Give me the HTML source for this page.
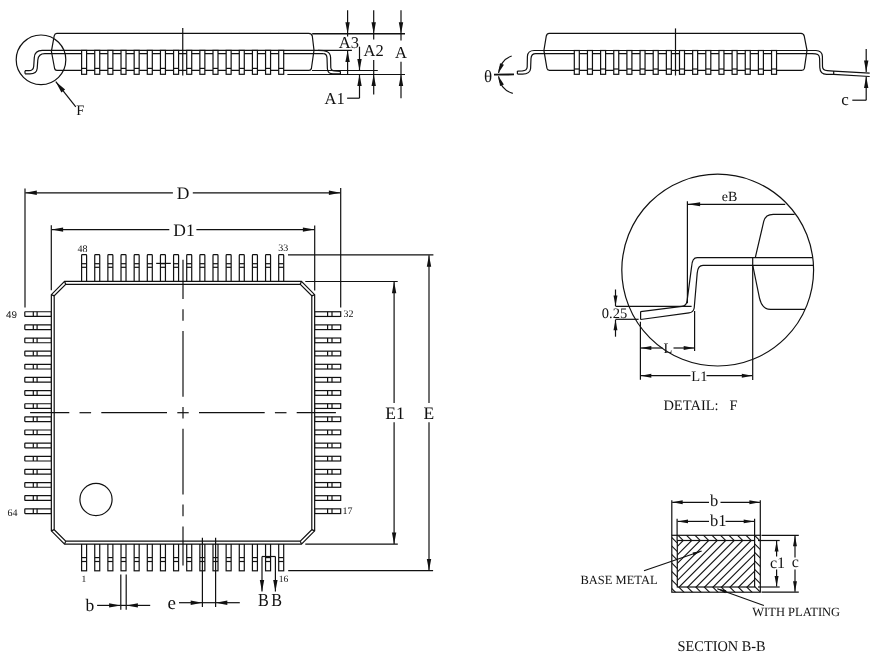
<!DOCTYPE html>
<html><head><meta charset="utf-8"><title>LQFP64 package outline</title>
<style>
html,body{margin:0;padding:0;background:#fff;}
body{width:877px;height:663px;overflow:hidden;}
svg{display:block;will-change:transform;}
svg text{font-family:"Liberation Serif",serif;fill:#111;stroke:none;text-rendering:geometricPrecision;}
</style></head><body>
<svg width="877" height="663" viewBox="0 0 877 663"><defs><clipPath id="ci"><rect x="677.3" y="540.5" width="77.3" height="46.5"/></clipPath><clipPath id="co"><path d="M671.8 535.3H760.3V592.2H671.8Z M677.3 540.5V587H754.6V540.5Z" clip-rule="evenodd"/></clipPath></defs><g stroke="#111" fill="none" stroke-linecap="butt"><circle cx="41" cy="59.8" r="24.8" stroke-width="1.2" fill="none"/><path d="M56.8 33.4 L308.6 33.4 Q311.6 33.4 312.3 36 L314 50.3 L311.4 68.5 Q311 70.3 309 70.3 L56.8 70.3 Q55 70.3 54.6 68.5 L51.4 51.3 L54.2 35.8 Q54.8 33.4 56.8 33.4 Z" stroke-width="1.2" fill="none"/><path d="M351.9 50.4 L42.2 50.4 C37 50.4 34.6 52.6 34.3 57.5 L33.7 66.5 C33.4 69.6 32 70.7 28.8 70.7 L25 70.7" stroke-width="1.2" fill="none"/><path d="M323.2 53.6 L44.8 53.6 C40.6 53.6 38.2 55.6 37.8 60 L37.2 68.5 C36.8 72.4 34.5 73.8 30 73.8 L25 73.8" stroke-width="1.2" fill="none"/><line x1="25" y1="70.7" x2="25" y2="73.8" stroke-width="1.2"/><path d="M323.2 53.6 C325.8 53.6 326.9 55 327 58 L327.4 68.8 C327.6 72.6 329.6 73.9 333 73.9 L340.4 73.9" stroke-width="1.2" fill="none"/><path d="M318 50.4 C326 50.4 330.4 51.5 330.6 57.5 L330.8 67.5 C331 70.1 332 70.8 334.5 70.9 L340.4 71.3" stroke-width="1.2" fill="none"/><line x1="340.4" y1="71.3" x2="340.4" y2="73.9" stroke-width="1.2"/><rect x="81.6" y="50.4" width="5" height="23.9" rx="0" stroke-width="1.2" fill="#fff"/><line x1="81.6" y1="68.4" x2="86.6" y2="68.4" stroke-width="1.2"/><rect x="94.74" y="50.4" width="5" height="23.9" rx="0" stroke-width="1.2" fill="#fff"/><line x1="94.74" y1="68.4" x2="99.74" y2="68.4" stroke-width="1.2"/><rect x="107.88" y="50.4" width="5" height="23.9" rx="0" stroke-width="1.2" fill="#fff"/><line x1="107.88" y1="68.4" x2="112.88" y2="68.4" stroke-width="1.2"/><rect x="121.02" y="50.4" width="5" height="23.9" rx="0" stroke-width="1.2" fill="#fff"/><line x1="121.02" y1="68.4" x2="126.02" y2="68.4" stroke-width="1.2"/><rect x="134.16" y="50.4" width="5" height="23.9" rx="0" stroke-width="1.2" fill="#fff"/><line x1="134.16" y1="68.4" x2="139.16" y2="68.4" stroke-width="1.2"/><rect x="147.3" y="50.4" width="5" height="23.9" rx="0" stroke-width="1.2" fill="#fff"/><line x1="147.3" y1="68.4" x2="152.3" y2="68.4" stroke-width="1.2"/><rect x="160.44" y="50.4" width="5" height="23.9" rx="0" stroke-width="1.2" fill="#fff"/><line x1="160.44" y1="68.4" x2="165.44" y2="68.4" stroke-width="1.2"/><rect x="173.58" y="50.4" width="5" height="23.9" rx="0" stroke-width="1.2" fill="#fff"/><line x1="173.58" y1="68.4" x2="178.58" y2="68.4" stroke-width="1.2"/><rect x="186.72" y="50.4" width="5" height="23.9" rx="0" stroke-width="1.2" fill="#fff"/><line x1="186.72" y1="68.4" x2="191.72" y2="68.4" stroke-width="1.2"/><rect x="199.86" y="50.4" width="5" height="23.9" rx="0" stroke-width="1.2" fill="#fff"/><line x1="199.86" y1="68.4" x2="204.86" y2="68.4" stroke-width="1.2"/><rect x="213" y="50.4" width="5" height="23.9" rx="0" stroke-width="1.2" fill="#fff"/><line x1="213" y1="68.4" x2="218" y2="68.4" stroke-width="1.2"/><rect x="226.14" y="50.4" width="5" height="23.9" rx="0" stroke-width="1.2" fill="#fff"/><line x1="226.14" y1="68.4" x2="231.14" y2="68.4" stroke-width="1.2"/><rect x="239.28" y="50.4" width="5" height="23.9" rx="0" stroke-width="1.2" fill="#fff"/><line x1="239.28" y1="68.4" x2="244.28" y2="68.4" stroke-width="1.2"/><rect x="252.42" y="50.4" width="5" height="23.9" rx="0" stroke-width="1.2" fill="#fff"/><line x1="252.42" y1="68.4" x2="257.42" y2="68.4" stroke-width="1.2"/><rect x="265.56" y="50.4" width="5" height="23.9" rx="0" stroke-width="1.2" fill="#fff"/><line x1="265.56" y1="68.4" x2="270.56" y2="68.4" stroke-width="1.2"/><rect x="278.7" y="50.4" width="5" height="23.9" rx="0" stroke-width="1.2" fill="#fff"/><line x1="278.7" y1="68.4" x2="283.7" y2="68.4" stroke-width="1.2"/><line x1="182.75" y1="28.1" x2="182.75" y2="75.6" stroke-width="1.2"/><line x1="312.2" y1="33.7" x2="405" y2="33.7" stroke-width="1.4"/><line x1="312" y1="70.5" x2="377.8" y2="70.5" stroke-width="1.2"/><line x1="287.4" y1="74.5" x2="405" y2="74.5" stroke-width="1.2"/><line x1="347.6" y1="10.2" x2="347.6" y2="33.7" stroke-width="1.2"/><path d="M347.6 33.7L345.4 22.2L349.8 22.2Z" fill="#111" stroke="none"/><line x1="347.6" y1="33.7" x2="347.6" y2="36.4" stroke-width="1.2"/><path d="M347.6 50.6L349.8 62.1L345.4 62.1Z" fill="#111" stroke="none"/><line x1="347.6" y1="50.6" x2="347.6" y2="74.5" stroke-width="1.2"/><line x1="359.5" y1="46.7" x2="359.5" y2="70.4" stroke-width="1.2"/><path d="M359.5 70.4L357.3 58.9L361.7 58.9Z" fill="#111" stroke="none"/><line x1="359.5" y1="98.2" x2="359.5" y2="74.6" stroke-width="1.2"/><path d="M359.5 74.6L361.7 86.1L357.3 86.1Z" fill="#111" stroke="none"/><line x1="359.5" y1="98.2" x2="347.1" y2="98.2" stroke-width="1.2"/><line x1="373.7" y1="10.2" x2="373.7" y2="33.7" stroke-width="1.2"/><path d="M373.7 33.7L371.5 22.2L375.9 22.2Z" fill="#111" stroke="none"/><line x1="373.7" y1="33.7" x2="373.7" y2="39.6" stroke-width="1.2"/><line x1="373.7" y1="60" x2="373.7" y2="74.4" stroke-width="1.2"/><line x1="373.7" y1="94.6" x2="373.7" y2="74.4" stroke-width="1.2"/><path d="M373.7 74.4L375.9 85.9L371.5 85.9Z" fill="#111" stroke="none"/><line x1="401" y1="10.2" x2="401" y2="33.7" stroke-width="1.2"/><path d="M401 33.7L398.8 22.2L403.2 22.2Z" fill="#111" stroke="none"/><line x1="401" y1="33.7" x2="401" y2="40.4" stroke-width="1.2"/><line x1="401" y1="61.8" x2="401" y2="74.4" stroke-width="1.2"/><line x1="401" y1="98.2" x2="401" y2="74.4" stroke-width="1.2"/><path d="M401 74.4L403.2 85.9L398.8 85.9Z" fill="#111" stroke="none"/><line x1="75.8" y1="106.9" x2="55.8" y2="81.7" stroke-width="1.2"/><path d="M55.8 81.7L65.14 89.61L61.38 92.59Z" fill="#111" stroke="none"/><path d="M549.2 33.4 L801 33.4 Q803.6 33.6 804.2 36 L807 50.3 L804.4 68.4 Q804 70.4 801.6 70.4 L549.4 70.4 Q547.4 70.3 546.9 68.2 L543.9 50.4 L546.3 36 Q547 33.4 549.2 33.4 Z" stroke-width="1.2" fill="none"/><path d="M816 50.5 L534.2 50.5 C529.6 50.5 527.6 52.5 527.4 56.5 L527.2 67 C527 70 525.6 70.7 522.5 70.9 L517.4 71.1" stroke-width="1.2" fill="none"/><path d="M812 53.6 L535.8 53.6 C532.5 53.6 531.2 55.5 531 58.5 L530.6 68.5 C530.2 72.7 527.6 74.1 522.5 74.1 L517.4 74.1" stroke-width="1.2" fill="none"/><line x1="517.4" y1="71.1" x2="517.4" y2="74.1" stroke-width="1.2"/><path d="M812 53.6 C817.5 53.6 819.4 54.6 819.6 58.5 L819.8 67.5 C820 72.5 822 74.3 826.6 74.3 L833.7 74.3 L869.7 76.5" stroke-width="1.2" fill="none"/><path d="M816 50.5 C820.6 50.6 822.2 52.3 822.4 56.5 L822.5 66.6 C822.6 69.6 824.2 70.6 827.2 70.7 L833.7 71.1 L869.7 73.1" stroke-width="1.2" fill="none"/><line x1="833.7" y1="71.1" x2="833.7" y2="74.3" stroke-width="1.2"/><rect x="574.3" y="50.5" width="5" height="23.8" rx="0" stroke-width="1.2" fill="#fff"/><line x1="574.3" y1="69" x2="579.3" y2="69" stroke-width="1.2"/><rect x="587.45" y="50.5" width="5" height="23.8" rx="0" stroke-width="1.2" fill="#fff"/><line x1="587.45" y1="69" x2="592.45" y2="69" stroke-width="1.2"/><rect x="600.6" y="50.5" width="5" height="23.8" rx="0" stroke-width="1.2" fill="#fff"/><line x1="600.6" y1="69" x2="605.6" y2="69" stroke-width="1.2"/><rect x="613.75" y="50.5" width="5" height="23.8" rx="0" stroke-width="1.2" fill="#fff"/><line x1="613.75" y1="69" x2="618.75" y2="69" stroke-width="1.2"/><rect x="626.9" y="50.5" width="5" height="23.8" rx="0" stroke-width="1.2" fill="#fff"/><line x1="626.9" y1="69" x2="631.9" y2="69" stroke-width="1.2"/><rect x="640.05" y="50.5" width="5" height="23.8" rx="0" stroke-width="1.2" fill="#fff"/><line x1="640.05" y1="69" x2="645.05" y2="69" stroke-width="1.2"/><rect x="653.2" y="50.5" width="5" height="23.8" rx="0" stroke-width="1.2" fill="#fff"/><line x1="653.2" y1="69" x2="658.2" y2="69" stroke-width="1.2"/><rect x="666.35" y="50.5" width="5" height="23.8" rx="0" stroke-width="1.2" fill="#fff"/><line x1="666.35" y1="69" x2="671.35" y2="69" stroke-width="1.2"/><rect x="679.5" y="50.5" width="5" height="23.8" rx="0" stroke-width="1.2" fill="#fff"/><line x1="679.5" y1="69" x2="684.5" y2="69" stroke-width="1.2"/><rect x="692.65" y="50.5" width="5" height="23.8" rx="0" stroke-width="1.2" fill="#fff"/><line x1="692.65" y1="69" x2="697.65" y2="69" stroke-width="1.2"/><rect x="705.8" y="50.5" width="5" height="23.8" rx="0" stroke-width="1.2" fill="#fff"/><line x1="705.8" y1="69" x2="710.8" y2="69" stroke-width="1.2"/><rect x="718.95" y="50.5" width="5" height="23.8" rx="0" stroke-width="1.2" fill="#fff"/><line x1="718.95" y1="69" x2="723.95" y2="69" stroke-width="1.2"/><rect x="732.1" y="50.5" width="5" height="23.8" rx="0" stroke-width="1.2" fill="#fff"/><line x1="732.1" y1="69" x2="737.1" y2="69" stroke-width="1.2"/><rect x="745.25" y="50.5" width="5" height="23.8" rx="0" stroke-width="1.2" fill="#fff"/><line x1="745.25" y1="69" x2="750.25" y2="69" stroke-width="1.2"/><rect x="758.4" y="50.5" width="5" height="23.8" rx="0" stroke-width="1.2" fill="#fff"/><line x1="758.4" y1="69" x2="763.4" y2="69" stroke-width="1.2"/><rect x="771.55" y="50.5" width="5" height="23.8" rx="0" stroke-width="1.2" fill="#fff"/><line x1="771.55" y1="69" x2="776.55" y2="69" stroke-width="1.2"/><line x1="675.5" y1="28.4" x2="675.5" y2="75.5" stroke-width="1.2"/><path d="M511.7 56 A19.5 19.5 0 0 0 498.6 73" stroke-width="1.2" fill="none"/><path d="M498.6 72.8L500.01 63.17L503.94 64.67Z" fill="#111" stroke="none"/><path d="M512.8 93.4 A19.5 19.5 0 0 1 498.6 76.2" stroke-width="1.2" fill="none"/><path d="M498.6 76.4L503.94 84.53L500.01 86.03Z" fill="#111" stroke="none"/><line x1="494" y1="74.6" x2="514" y2="74.4" stroke-width="1.9"/><line x1="866.2" y1="49" x2="866.2" y2="72" stroke-width="1.2"/><path d="M866.2 72L864 60.5L868.4 60.5Z" fill="#111" stroke="none"/><line x1="866.2" y1="100.2" x2="866.2" y2="76.4" stroke-width="1.2"/><path d="M866.2 76.4L868.4 87.9L864 87.9Z" fill="#111" stroke="none"/><line x1="866.2" y1="100.2" x2="852.3" y2="100.2" stroke-width="1.2"/><line x1="25" y1="188.6" x2="25" y2="307.5" stroke-width="1.2"/><line x1="340.7" y1="188" x2="340.7" y2="307.6" stroke-width="1.2"/><line x1="172.9" y1="192.8" x2="25.3" y2="192.8" stroke-width="1.2"/><path d="M25.3 192.8L36.8 190.6L36.8 195Z" fill="#111" stroke="none"/><line x1="192.8" y1="192.8" x2="340.4" y2="192.8" stroke-width="1.2"/><path d="M340.4 192.8L328.9 195L328.9 190.6Z" fill="#111" stroke="none"/><line x1="51.3" y1="225.2" x2="51.3" y2="290.2" stroke-width="1.2"/><line x1="314.7" y1="225.5" x2="314.7" y2="290.5" stroke-width="1.2"/><line x1="169.3" y1="229.6" x2="51.6" y2="229.6" stroke-width="1.2"/><path d="M51.6 229.6L63.1 227.4L63.1 231.8Z" fill="#111" stroke="none"/><line x1="196.4" y1="229.6" x2="314.4" y2="229.6" stroke-width="1.2"/><path d="M314.4 229.6L302.9 231.8L302.9 227.4Z" fill="#111" stroke="none"/><line x1="288" y1="254.9" x2="433.4" y2="254.9" stroke-width="1.2"/><line x1="288.2" y1="570.7" x2="433.1" y2="570.7" stroke-width="1.2"/><line x1="429" y1="402.9" x2="429" y2="255.2" stroke-width="1.2"/><path d="M429 255.2L431.2 266.7L426.8 266.7Z" fill="#111" stroke="none"/><line x1="429" y1="422.2" x2="429" y2="570.4" stroke-width="1.2"/><path d="M429 570.4L426.8 558.9L431.2 558.9Z" fill="#111" stroke="none"/><line x1="305.3" y1="281.5" x2="397.7" y2="281.5" stroke-width="1.2"/><line x1="305.3" y1="544.2" x2="397.8" y2="544.2" stroke-width="1.2"/><line x1="394.1" y1="402.9" x2="394.1" y2="281.8" stroke-width="1.2"/><path d="M394.1 281.8L396.3 293.3L391.9 293.3Z" fill="#111" stroke="none"/><line x1="394.1" y1="422.2" x2="394.1" y2="543.9" stroke-width="1.2"/><path d="M394.1 543.9L391.9 532.4L396.3 532.4Z" fill="#111" stroke="none"/><rect x="81.6" y="254.6" width="5" height="27.4" rx="0.8" stroke-width="1.2" fill="#fff"/><line x1="81.6" y1="263.7" x2="86.6" y2="263.7" stroke-width="1.2"/><line x1="81.6" y1="267.3" x2="86.6" y2="267.3" stroke-width="1.2"/><rect x="94.74" y="254.6" width="5" height="27.4" rx="0.8" stroke-width="1.2" fill="#fff"/><line x1="94.74" y1="263.7" x2="99.74" y2="263.7" stroke-width="1.2"/><line x1="94.74" y1="267.3" x2="99.74" y2="267.3" stroke-width="1.2"/><rect x="107.88" y="254.6" width="5" height="27.4" rx="0.8" stroke-width="1.2" fill="#fff"/><line x1="107.88" y1="263.7" x2="112.88" y2="263.7" stroke-width="1.2"/><line x1="107.88" y1="267.3" x2="112.88" y2="267.3" stroke-width="1.2"/><rect x="121.02" y="254.6" width="5" height="27.4" rx="0.8" stroke-width="1.2" fill="#fff"/><line x1="121.02" y1="263.7" x2="126.02" y2="263.7" stroke-width="1.2"/><line x1="121.02" y1="267.3" x2="126.02" y2="267.3" stroke-width="1.2"/><rect x="134.16" y="254.6" width="5" height="27.4" rx="0.8" stroke-width="1.2" fill="#fff"/><line x1="134.16" y1="263.7" x2="139.16" y2="263.7" stroke-width="1.2"/><line x1="134.16" y1="267.3" x2="139.16" y2="267.3" stroke-width="1.2"/><rect x="147.3" y="254.6" width="5" height="27.4" rx="0.8" stroke-width="1.2" fill="#fff"/><line x1="147.3" y1="263.7" x2="152.3" y2="263.7" stroke-width="1.2"/><line x1="147.3" y1="267.3" x2="152.3" y2="267.3" stroke-width="1.2"/><rect x="160.44" y="254.6" width="5" height="27.4" rx="0.8" stroke-width="1.2" fill="#fff"/><line x1="160.44" y1="263.7" x2="165.44" y2="263.7" stroke-width="1.2"/><line x1="160.44" y1="267.3" x2="165.44" y2="267.3" stroke-width="1.2"/><rect x="173.58" y="254.6" width="5" height="27.4" rx="0.8" stroke-width="1.2" fill="#fff"/><line x1="173.58" y1="263.7" x2="178.58" y2="263.7" stroke-width="1.2"/><line x1="173.58" y1="267.3" x2="178.58" y2="267.3" stroke-width="1.2"/><rect x="186.72" y="254.6" width="5" height="27.4" rx="0.8" stroke-width="1.2" fill="#fff"/><line x1="186.72" y1="263.7" x2="191.72" y2="263.7" stroke-width="1.2"/><line x1="186.72" y1="267.3" x2="191.72" y2="267.3" stroke-width="1.2"/><rect x="199.86" y="254.6" width="5" height="27.4" rx="0.8" stroke-width="1.2" fill="#fff"/><line x1="199.86" y1="263.7" x2="204.86" y2="263.7" stroke-width="1.2"/><line x1="199.86" y1="267.3" x2="204.86" y2="267.3" stroke-width="1.2"/><rect x="213" y="254.6" width="5" height="27.4" rx="0.8" stroke-width="1.2" fill="#fff"/><line x1="213" y1="263.7" x2="218" y2="263.7" stroke-width="1.2"/><line x1="213" y1="267.3" x2="218" y2="267.3" stroke-width="1.2"/><rect x="226.14" y="254.6" width="5" height="27.4" rx="0.8" stroke-width="1.2" fill="#fff"/><line x1="226.14" y1="263.7" x2="231.14" y2="263.7" stroke-width="1.2"/><line x1="226.14" y1="267.3" x2="231.14" y2="267.3" stroke-width="1.2"/><rect x="239.28" y="254.6" width="5" height="27.4" rx="0.8" stroke-width="1.2" fill="#fff"/><line x1="239.28" y1="263.7" x2="244.28" y2="263.7" stroke-width="1.2"/><line x1="239.28" y1="267.3" x2="244.28" y2="267.3" stroke-width="1.2"/><rect x="252.42" y="254.6" width="5" height="27.4" rx="0.8" stroke-width="1.2" fill="#fff"/><line x1="252.42" y1="263.7" x2="257.42" y2="263.7" stroke-width="1.2"/><line x1="252.42" y1="267.3" x2="257.42" y2="267.3" stroke-width="1.2"/><rect x="265.56" y="254.6" width="5" height="27.4" rx="0.8" stroke-width="1.2" fill="#fff"/><line x1="265.56" y1="263.7" x2="270.56" y2="263.7" stroke-width="1.2"/><line x1="265.56" y1="267.3" x2="270.56" y2="267.3" stroke-width="1.2"/><rect x="278.7" y="254.6" width="5" height="27.4" rx="0.8" stroke-width="1.2" fill="#fff"/><line x1="278.7" y1="263.7" x2="283.7" y2="263.7" stroke-width="1.2"/><line x1="278.7" y1="267.3" x2="283.7" y2="267.3" stroke-width="1.2"/><rect x="81.6" y="543.6" width="5" height="27.2" rx="0" stroke-width="1.2" fill="#fff"/><line x1="81.6" y1="557.6" x2="86.6" y2="557.6" stroke-width="1.2"/><line x1="81.6" y1="561.5" x2="86.6" y2="561.5" stroke-width="1.2"/><rect x="94.74" y="543.6" width="5" height="27.2" rx="0" stroke-width="1.2" fill="#fff"/><line x1="94.74" y1="557.6" x2="99.74" y2="557.6" stroke-width="1.2"/><line x1="94.74" y1="561.5" x2="99.74" y2="561.5" stroke-width="1.2"/><rect x="107.88" y="543.6" width="5" height="27.2" rx="0" stroke-width="1.2" fill="#fff"/><line x1="107.88" y1="557.6" x2="112.88" y2="557.6" stroke-width="1.2"/><line x1="107.88" y1="561.5" x2="112.88" y2="561.5" stroke-width="1.2"/><rect x="121.02" y="543.6" width="5" height="27.2" rx="0" stroke-width="1.2" fill="#fff"/><line x1="121.02" y1="557.6" x2="126.02" y2="557.6" stroke-width="1.2"/><line x1="121.02" y1="561.5" x2="126.02" y2="561.5" stroke-width="1.2"/><rect x="134.16" y="543.6" width="5" height="27.2" rx="0" stroke-width="1.2" fill="#fff"/><line x1="134.16" y1="557.6" x2="139.16" y2="557.6" stroke-width="1.2"/><line x1="134.16" y1="561.5" x2="139.16" y2="561.5" stroke-width="1.2"/><rect x="147.3" y="543.6" width="5" height="27.2" rx="0" stroke-width="1.2" fill="#fff"/><line x1="147.3" y1="557.6" x2="152.3" y2="557.6" stroke-width="1.2"/><line x1="147.3" y1="561.5" x2="152.3" y2="561.5" stroke-width="1.2"/><rect x="160.44" y="543.6" width="5" height="27.2" rx="0" stroke-width="1.2" fill="#fff"/><line x1="160.44" y1="557.6" x2="165.44" y2="557.6" stroke-width="1.2"/><line x1="160.44" y1="561.5" x2="165.44" y2="561.5" stroke-width="1.2"/><rect x="173.58" y="543.6" width="5" height="27.2" rx="0" stroke-width="1.2" fill="#fff"/><line x1="173.58" y1="557.6" x2="178.58" y2="557.6" stroke-width="1.2"/><line x1="173.58" y1="561.5" x2="178.58" y2="561.5" stroke-width="1.2"/><rect x="186.72" y="543.6" width="5" height="27.2" rx="0" stroke-width="1.2" fill="#fff"/><line x1="186.72" y1="557.6" x2="191.72" y2="557.6" stroke-width="1.2"/><line x1="186.72" y1="561.5" x2="191.72" y2="561.5" stroke-width="1.2"/><rect x="199.86" y="543.6" width="5" height="27.2" rx="0" stroke-width="1.2" fill="#fff"/><line x1="199.86" y1="557.6" x2="204.86" y2="557.6" stroke-width="1.2"/><line x1="199.86" y1="561.5" x2="204.86" y2="561.5" stroke-width="1.2"/><rect x="213" y="543.6" width="5" height="27.2" rx="0" stroke-width="1.2" fill="#fff"/><line x1="213" y1="557.6" x2="218" y2="557.6" stroke-width="1.2"/><line x1="213" y1="561.5" x2="218" y2="561.5" stroke-width="1.2"/><rect x="226.14" y="543.6" width="5" height="27.2" rx="0" stroke-width="1.2" fill="#fff"/><line x1="226.14" y1="557.6" x2="231.14" y2="557.6" stroke-width="1.2"/><line x1="226.14" y1="561.5" x2="231.14" y2="561.5" stroke-width="1.2"/><rect x="239.28" y="543.6" width="5" height="27.2" rx="0" stroke-width="1.2" fill="#fff"/><line x1="239.28" y1="557.6" x2="244.28" y2="557.6" stroke-width="1.2"/><line x1="239.28" y1="561.5" x2="244.28" y2="561.5" stroke-width="1.2"/><rect x="252.42" y="543.6" width="5" height="27.2" rx="0" stroke-width="1.2" fill="#fff"/><line x1="252.42" y1="557.6" x2="257.42" y2="557.6" stroke-width="1.2"/><line x1="252.42" y1="561.5" x2="257.42" y2="561.5" stroke-width="1.2"/><rect x="265.56" y="543.6" width="5" height="27.2" rx="0" stroke-width="1.2" fill="#fff"/><line x1="265.56" y1="557.6" x2="270.56" y2="557.6" stroke-width="1.2"/><line x1="265.56" y1="561.5" x2="270.56" y2="561.5" stroke-width="1.2"/><rect x="278.7" y="543.6" width="5" height="27.2" rx="0" stroke-width="1.2" fill="#fff"/><line x1="278.7" y1="557.6" x2="283.7" y2="557.6" stroke-width="1.2"/><line x1="278.7" y1="561.5" x2="283.7" y2="561.5" stroke-width="1.2"/><rect x="24.8" y="311.75" width="26.6" height="4.7" rx="0.5" stroke-width="1.2" fill="#fff"/><line x1="33.3" y1="311.75" x2="33.3" y2="316.45" stroke-width="1.2"/><line x1="37.1" y1="311.75" x2="37.1" y2="316.45" stroke-width="1.2"/><rect x="24.8" y="324.89" width="26.6" height="4.7" rx="0.5" stroke-width="1.2" fill="#fff"/><line x1="33.3" y1="324.89" x2="33.3" y2="329.59" stroke-width="1.2"/><line x1="37.1" y1="324.89" x2="37.1" y2="329.59" stroke-width="1.2"/><rect x="24.8" y="338.03" width="26.6" height="4.7" rx="0.5" stroke-width="1.2" fill="#fff"/><line x1="33.3" y1="338.03" x2="33.3" y2="342.73" stroke-width="1.2"/><line x1="37.1" y1="338.03" x2="37.1" y2="342.73" stroke-width="1.2"/><rect x="24.8" y="351.17" width="26.6" height="4.7" rx="0.5" stroke-width="1.2" fill="#fff"/><line x1="33.3" y1="351.17" x2="33.3" y2="355.87" stroke-width="1.2"/><line x1="37.1" y1="351.17" x2="37.1" y2="355.87" stroke-width="1.2"/><rect x="24.8" y="364.31" width="26.6" height="4.7" rx="0.5" stroke-width="1.2" fill="#fff"/><line x1="33.3" y1="364.31" x2="33.3" y2="369.01" stroke-width="1.2"/><line x1="37.1" y1="364.31" x2="37.1" y2="369.01" stroke-width="1.2"/><rect x="24.8" y="377.45" width="26.6" height="4.7" rx="0.5" stroke-width="1.2" fill="#fff"/><line x1="33.3" y1="377.45" x2="33.3" y2="382.15" stroke-width="1.2"/><line x1="37.1" y1="377.45" x2="37.1" y2="382.15" stroke-width="1.2"/><rect x="24.8" y="390.59" width="26.6" height="4.7" rx="0.5" stroke-width="1.2" fill="#fff"/><line x1="33.3" y1="390.59" x2="33.3" y2="395.29" stroke-width="1.2"/><line x1="37.1" y1="390.59" x2="37.1" y2="395.29" stroke-width="1.2"/><rect x="24.8" y="403.73" width="26.6" height="4.7" rx="0.5" stroke-width="1.2" fill="#fff"/><line x1="33.3" y1="403.73" x2="33.3" y2="408.43" stroke-width="1.2"/><line x1="37.1" y1="403.73" x2="37.1" y2="408.43" stroke-width="1.2"/><rect x="24.8" y="416.87" width="26.6" height="4.7" rx="0.5" stroke-width="1.2" fill="#fff"/><line x1="33.3" y1="416.87" x2="33.3" y2="421.57" stroke-width="1.2"/><line x1="37.1" y1="416.87" x2="37.1" y2="421.57" stroke-width="1.2"/><rect x="24.8" y="430.01" width="26.6" height="4.7" rx="0.5" stroke-width="1.2" fill="#fff"/><line x1="33.3" y1="430.01" x2="33.3" y2="434.71" stroke-width="1.2"/><line x1="37.1" y1="430.01" x2="37.1" y2="434.71" stroke-width="1.2"/><rect x="24.8" y="443.15" width="26.6" height="4.7" rx="0.5" stroke-width="1.2" fill="#fff"/><line x1="33.3" y1="443.15" x2="33.3" y2="447.85" stroke-width="1.2"/><line x1="37.1" y1="443.15" x2="37.1" y2="447.85" stroke-width="1.2"/><rect x="24.8" y="456.29" width="26.6" height="4.7" rx="0.5" stroke-width="1.2" fill="#fff"/><line x1="33.3" y1="456.29" x2="33.3" y2="460.99" stroke-width="1.2"/><line x1="37.1" y1="456.29" x2="37.1" y2="460.99" stroke-width="1.2"/><rect x="24.8" y="469.43" width="26.6" height="4.7" rx="0.5" stroke-width="1.2" fill="#fff"/><line x1="33.3" y1="469.43" x2="33.3" y2="474.13" stroke-width="1.2"/><line x1="37.1" y1="469.43" x2="37.1" y2="474.13" stroke-width="1.2"/><rect x="24.8" y="482.57" width="26.6" height="4.7" rx="0.5" stroke-width="1.2" fill="#fff"/><line x1="33.3" y1="482.57" x2="33.3" y2="487.27" stroke-width="1.2"/><line x1="37.1" y1="482.57" x2="37.1" y2="487.27" stroke-width="1.2"/><rect x="24.8" y="495.71" width="26.6" height="4.7" rx="0.5" stroke-width="1.2" fill="#fff"/><line x1="33.3" y1="495.71" x2="33.3" y2="500.41" stroke-width="1.2"/><line x1="37.1" y1="495.71" x2="37.1" y2="500.41" stroke-width="1.2"/><rect x="24.8" y="508.85" width="26.6" height="4.7" rx="0.5" stroke-width="1.2" fill="#fff"/><line x1="33.3" y1="508.85" x2="33.3" y2="513.55" stroke-width="1.2"/><line x1="37.1" y1="508.85" x2="37.1" y2="513.55" stroke-width="1.2"/><rect x="314.6" y="311.75" width="26.1" height="4.7" rx="0" stroke-width="1.2" fill="#fff"/><line x1="327.6" y1="311.75" x2="327.6" y2="316.45" stroke-width="1.2"/><line x1="332" y1="311.75" x2="332" y2="316.45" stroke-width="1.2"/><rect x="314.6" y="324.89" width="26.1" height="4.7" rx="0" stroke-width="1.2" fill="#fff"/><line x1="327.6" y1="324.89" x2="327.6" y2="329.59" stroke-width="1.2"/><line x1="332" y1="324.89" x2="332" y2="329.59" stroke-width="1.2"/><rect x="314.6" y="338.03" width="26.1" height="4.7" rx="0" stroke-width="1.2" fill="#fff"/><line x1="327.6" y1="338.03" x2="327.6" y2="342.73" stroke-width="1.2"/><line x1="332" y1="338.03" x2="332" y2="342.73" stroke-width="1.2"/><rect x="314.6" y="351.17" width="26.1" height="4.7" rx="0" stroke-width="1.2" fill="#fff"/><line x1="327.6" y1="351.17" x2="327.6" y2="355.87" stroke-width="1.2"/><line x1="332" y1="351.17" x2="332" y2="355.87" stroke-width="1.2"/><rect x="314.6" y="364.31" width="26.1" height="4.7" rx="0" stroke-width="1.2" fill="#fff"/><line x1="327.6" y1="364.31" x2="327.6" y2="369.01" stroke-width="1.2"/><line x1="332" y1="364.31" x2="332" y2="369.01" stroke-width="1.2"/><rect x="314.6" y="377.45" width="26.1" height="4.7" rx="0" stroke-width="1.2" fill="#fff"/><line x1="327.6" y1="377.45" x2="327.6" y2="382.15" stroke-width="1.2"/><line x1="332" y1="377.45" x2="332" y2="382.15" stroke-width="1.2"/><rect x="314.6" y="390.59" width="26.1" height="4.7" rx="0" stroke-width="1.2" fill="#fff"/><line x1="327.6" y1="390.59" x2="327.6" y2="395.29" stroke-width="1.2"/><line x1="332" y1="390.59" x2="332" y2="395.29" stroke-width="1.2"/><rect x="314.6" y="403.73" width="26.1" height="4.7" rx="0" stroke-width="1.2" fill="#fff"/><line x1="327.6" y1="403.73" x2="327.6" y2="408.43" stroke-width="1.2"/><line x1="332" y1="403.73" x2="332" y2="408.43" stroke-width="1.2"/><rect x="314.6" y="416.87" width="26.1" height="4.7" rx="0" stroke-width="1.2" fill="#fff"/><line x1="327.6" y1="416.87" x2="327.6" y2="421.57" stroke-width="1.2"/><line x1="332" y1="416.87" x2="332" y2="421.57" stroke-width="1.2"/><rect x="314.6" y="430.01" width="26.1" height="4.7" rx="0" stroke-width="1.2" fill="#fff"/><line x1="327.6" y1="430.01" x2="327.6" y2="434.71" stroke-width="1.2"/><line x1="332" y1="430.01" x2="332" y2="434.71" stroke-width="1.2"/><rect x="314.6" y="443.15" width="26.1" height="4.7" rx="0" stroke-width="1.2" fill="#fff"/><line x1="327.6" y1="443.15" x2="327.6" y2="447.85" stroke-width="1.2"/><line x1="332" y1="443.15" x2="332" y2="447.85" stroke-width="1.2"/><rect x="314.6" y="456.29" width="26.1" height="4.7" rx="0" stroke-width="1.2" fill="#fff"/><line x1="327.6" y1="456.29" x2="327.6" y2="460.99" stroke-width="1.2"/><line x1="332" y1="456.29" x2="332" y2="460.99" stroke-width="1.2"/><rect x="314.6" y="469.43" width="26.1" height="4.7" rx="0" stroke-width="1.2" fill="#fff"/><line x1="327.6" y1="469.43" x2="327.6" y2="474.13" stroke-width="1.2"/><line x1="332" y1="469.43" x2="332" y2="474.13" stroke-width="1.2"/><rect x="314.6" y="482.57" width="26.1" height="4.7" rx="0" stroke-width="1.2" fill="#fff"/><line x1="327.6" y1="482.57" x2="327.6" y2="487.27" stroke-width="1.2"/><line x1="332" y1="482.57" x2="332" y2="487.27" stroke-width="1.2"/><rect x="314.6" y="495.71" width="26.1" height="4.7" rx="0" stroke-width="1.2" fill="#fff"/><line x1="327.6" y1="495.71" x2="327.6" y2="500.41" stroke-width="1.2"/><line x1="332" y1="495.71" x2="332" y2="500.41" stroke-width="1.2"/><rect x="314.6" y="508.85" width="26.1" height="4.7" rx="0" stroke-width="1.2" fill="#fff"/><line x1="327.6" y1="508.85" x2="327.6" y2="513.55" stroke-width="1.2"/><line x1="332" y1="508.85" x2="332" y2="513.55" stroke-width="1.2"/><path d="M64.55 281.45 L301.45 281.45 L314.65 294.65 L314.65 530.85 L301.45 544.05 L64.55 544.05 L51.35 530.85 L51.35 294.65 Z" stroke-width="1.2" fill="#fff"/><path d="M65.73 284.3 L300.27 284.3 L311.8 295.83 L311.8 529.67 L300.27 541.2 L65.73 541.2 L54.2 529.67 L54.2 295.83 Z" stroke-width="1.2" fill="none"/><line x1="64.55" y1="281.45" x2="65.73" y2="284.3" stroke-width="1.2"/><line x1="301.45" y1="281.45" x2="300.27" y2="284.3" stroke-width="1.2"/><line x1="314.65" y1="294.65" x2="311.8" y2="295.83" stroke-width="1.2"/><line x1="314.65" y1="530.85" x2="311.8" y2="529.67" stroke-width="1.2"/><line x1="301.45" y1="544.05" x2="300.27" y2="541.2" stroke-width="1.2"/><line x1="64.55" y1="544.05" x2="65.73" y2="541.2" stroke-width="1.2"/><line x1="51.35" y1="530.85" x2="54.2" y2="529.67" stroke-width="1.2"/><line x1="51.35" y1="294.65" x2="54.2" y2="295.83" stroke-width="1.2"/><line x1="30.1" y1="412.7" x2="69.3" y2="412.7" stroke-width="1.2"/><line x1="183" y1="259.8" x2="183" y2="299" stroke-width="1.2"/><line x1="79.5" y1="412.7" x2="91.1" y2="412.7" stroke-width="1.2"/><line x1="183" y1="309.2" x2="183" y2="320.8" stroke-width="1.2"/><line x1="101.3" y1="412.7" x2="167" y2="412.7" stroke-width="1.2"/><line x1="183" y1="331" x2="183" y2="396.7" stroke-width="1.2"/><line x1="177.3" y1="412.7" x2="188.7" y2="412.7" stroke-width="1.2"/><line x1="183" y1="407" x2="183" y2="418.4" stroke-width="1.2"/><line x1="199" y1="412.7" x2="264.7" y2="412.7" stroke-width="1.2"/><line x1="183" y1="428.7" x2="183" y2="494.4" stroke-width="1.2"/><line x1="274.9" y1="412.7" x2="286.5" y2="412.7" stroke-width="1.2"/><line x1="183" y1="504.6" x2="183" y2="516.2" stroke-width="1.2"/><line x1="296.7" y1="412.7" x2="335.9" y2="412.7" stroke-width="1.2"/><line x1="183" y1="526.4" x2="183" y2="565.6" stroke-width="1.2"/><line x1="156.2" y1="263.4" x2="170.8" y2="263.4" stroke-width="1.2"/><circle cx="96" cy="499.5" r="16.1" stroke-width="1.2" fill="none"/><line x1="120.8" y1="574.4" x2="120.8" y2="609.7" stroke-width="1.2"/><line x1="126.2" y1="574.4" x2="126.2" y2="609.7" stroke-width="1.2"/><line x1="97.1" y1="605.4" x2="120.6" y2="605.4" stroke-width="1.2"/><path d="M120.6 605.4L109.1 607.6L109.1 603.2Z" fill="#111" stroke="none"/><line x1="150.2" y1="605.4" x2="126.4" y2="605.4" stroke-width="1.2"/><path d="M126.4 605.4L137.9 603.2L137.9 607.6Z" fill="#111" stroke="none"/><line x1="120.6" y1="605.4" x2="126.4" y2="605.4" stroke-width="1.2"/><line x1="202.4" y1="537.7" x2="202.4" y2="607" stroke-width="1.2"/><line x1="215.6" y1="537.7" x2="215.6" y2="607" stroke-width="1.2"/><line x1="179" y1="602.7" x2="202.2" y2="602.7" stroke-width="1.2"/><path d="M202.2 602.7L190.7 604.9L190.7 600.5Z" fill="#111" stroke="none"/><line x1="239.8" y1="602.7" x2="215.8" y2="602.7" stroke-width="1.2"/><path d="M215.8 602.7L227.3 600.5L227.3 604.9Z" fill="#111" stroke="none"/><line x1="202.2" y1="602.7" x2="215.8" y2="602.7" stroke-width="1.2"/><line x1="262" y1="556.5" x2="275.4" y2="556.5" stroke-width="1.2"/><line x1="262" y1="556.5" x2="262" y2="591.6" stroke-width="1.2"/><path d="M262 591.6L259.8 580.1L264.2 580.1Z" fill="#111" stroke="none"/><line x1="275.4" y1="556.5" x2="275.4" y2="591.6" stroke-width="1.2"/><path d="M275.4 591.6L273.2 580.1L277.6 580.1Z" fill="#111" stroke="none"/><circle cx="717.7" cy="270.1" r="95.9" stroke-width="1.2" fill="none"/><line x1="687.4" y1="201.2" x2="687.4" y2="303.3" stroke-width="1.2"/><line x1="785.2" y1="204.3" x2="687.6" y2="204.3" stroke-width="1.2"/><path d="M687.6 204.3L700.1 202.3L700.1 206.3Z" fill="#111" stroke="none"/><path d="M794.6 214.3 L773.2 214.3 C768 214.3 765 216.5 763.8 221.2 L755.3 257.6" stroke-width="1.2" fill="none"/><path d="M752.8 265.5 L759.5 298.2 C761 305 765 309.3 770.6 309.3 L805 309.3" stroke-width="1.2" fill="none"/><line x1="752.7" y1="257.3" x2="752.7" y2="380" stroke-width="1.2"/><path d="M812.5 257.7 L697.2 257.7 C693 257.7 691.9 261 691.6 266.7 L687.1 300.8 C686.6 304.5 685.5 306 682 306.4 L640.6 311.6" stroke-width="1.2" fill="none"/><path d="M813.4 265.4 L703 265.4 C699.5 265.4 697.6 268 697.2 273.1 L694.2 308 C693.7 311 692 312.5 689 312.8 L640.6 319.5" stroke-width="1.2" fill="none"/><line x1="640.6" y1="311.6" x2="640.6" y2="319.5" stroke-width="1.2"/><line x1="615.5" y1="306.4" x2="691.6" y2="306.4" stroke-width="1.2"/><line x1="615.5" y1="319.3" x2="638.6" y2="319.3" stroke-width="1.2"/><line x1="615.5" y1="289.5" x2="615.5" y2="306" stroke-width="1.2"/><path d="M615.5 306L613.55 295.5L617.45 295.5Z" fill="#111" stroke="none"/><line x1="615.5" y1="336.7" x2="615.5" y2="319.7" stroke-width="1.2"/><path d="M615.5 319.7L617.45 330.2L613.55 330.2Z" fill="#111" stroke="none"/><line x1="694.6" y1="311" x2="694.6" y2="351" stroke-width="1.2"/><line x1="640.4" y1="321.8" x2="640.4" y2="379.8" stroke-width="1.2"/><line x1="662.5" y1="348" x2="640.8" y2="348" stroke-width="1.2"/><path d="M640.8 348L651.3 346.05L651.3 349.95Z" fill="#111" stroke="none"/><line x1="673.5" y1="348" x2="694.2" y2="348" stroke-width="1.2"/><path d="M694.2 348L683.7 349.95L683.7 346.05Z" fill="#111" stroke="none"/><line x1="690.5" y1="375.7" x2="640.8" y2="375.7" stroke-width="1.2"/><path d="M640.8 375.7L651.3 373.75L651.3 377.65Z" fill="#111" stroke="none"/><line x1="706.5" y1="375.7" x2="752.3" y2="375.7" stroke-width="1.2"/><path d="M752.3 375.7L741.8 377.65L741.8 373.75Z" fill="#111" stroke="none"/><g clip-path="url(#ci)"><line x1="591.2" y1="530.5" x2="521.7" y2="600" stroke-width="1.15"/><line x1="599.7" y1="530.5" x2="530.2" y2="600" stroke-width="1.15"/><line x1="608.2" y1="530.5" x2="538.7" y2="600" stroke-width="1.15"/><line x1="616.7" y1="530.5" x2="547.2" y2="600" stroke-width="1.15"/><line x1="625.2" y1="530.5" x2="555.7" y2="600" stroke-width="1.15"/><line x1="633.7" y1="530.5" x2="564.2" y2="600" stroke-width="1.15"/><line x1="642.2" y1="530.5" x2="572.7" y2="600" stroke-width="1.15"/><line x1="650.7" y1="530.5" x2="581.2" y2="600" stroke-width="1.15"/><line x1="659.2" y1="530.5" x2="589.7" y2="600" stroke-width="1.15"/><line x1="667.7" y1="530.5" x2="598.2" y2="600" stroke-width="1.15"/><line x1="676.2" y1="530.5" x2="606.7" y2="600" stroke-width="1.15"/><line x1="684.7" y1="530.5" x2="615.2" y2="600" stroke-width="1.15"/><line x1="693.2" y1="530.5" x2="623.7" y2="600" stroke-width="1.15"/><line x1="701.7" y1="530.5" x2="632.2" y2="600" stroke-width="1.15"/><line x1="710.2" y1="530.5" x2="640.7" y2="600" stroke-width="1.15"/><line x1="718.7" y1="530.5" x2="649.2" y2="600" stroke-width="1.15"/><line x1="727.2" y1="530.5" x2="657.7" y2="600" stroke-width="1.15"/><line x1="735.7" y1="530.5" x2="666.2" y2="600" stroke-width="1.15"/><line x1="744.2" y1="530.5" x2="674.7" y2="600" stroke-width="1.15"/><line x1="752.7" y1="530.5" x2="683.2" y2="600" stroke-width="1.15"/><line x1="761.2" y1="530.5" x2="691.7" y2="600" stroke-width="1.15"/><line x1="769.7" y1="530.5" x2="700.2" y2="600" stroke-width="1.15"/><line x1="778.2" y1="530.5" x2="708.7" y2="600" stroke-width="1.15"/><line x1="786.7" y1="530.5" x2="717.2" y2="600" stroke-width="1.15"/><line x1="795.2" y1="530.5" x2="725.7" y2="600" stroke-width="1.15"/><line x1="803.7" y1="530.5" x2="734.2" y2="600" stroke-width="1.15"/></g><g clip-path="url(#co)"><line x1="570.7" y1="530" x2="640.7" y2="600" stroke-width="1.1"/><line x1="579.2" y1="530" x2="649.2" y2="600" stroke-width="1.1"/><line x1="587.7" y1="530" x2="657.7" y2="600" stroke-width="1.1"/><line x1="596.2" y1="530" x2="666.2" y2="600" stroke-width="1.1"/><line x1="604.7" y1="530" x2="674.7" y2="600" stroke-width="1.1"/><line x1="613.2" y1="530" x2="683.2" y2="600" stroke-width="1.1"/><line x1="621.7" y1="530" x2="691.7" y2="600" stroke-width="1.1"/><line x1="630.2" y1="530" x2="700.2" y2="600" stroke-width="1.1"/><line x1="638.7" y1="530" x2="708.7" y2="600" stroke-width="1.1"/><line x1="647.2" y1="530" x2="717.2" y2="600" stroke-width="1.1"/><line x1="655.7" y1="530" x2="725.7" y2="600" stroke-width="1.1"/><line x1="664.2" y1="530" x2="734.2" y2="600" stroke-width="1.1"/><line x1="672.7" y1="530" x2="742.7" y2="600" stroke-width="1.1"/><line x1="681.2" y1="530" x2="751.2" y2="600" stroke-width="1.1"/><line x1="689.7" y1="530" x2="759.7" y2="600" stroke-width="1.1"/><line x1="698.2" y1="530" x2="768.2" y2="600" stroke-width="1.1"/><line x1="706.7" y1="530" x2="776.7" y2="600" stroke-width="1.1"/><line x1="715.2" y1="530" x2="785.2" y2="600" stroke-width="1.1"/><line x1="723.7" y1="530" x2="793.7" y2="600" stroke-width="1.1"/><line x1="732.2" y1="530" x2="802.2" y2="600" stroke-width="1.1"/><line x1="740.7" y1="530" x2="810.7" y2="600" stroke-width="1.1"/><line x1="749.2" y1="530" x2="819.2" y2="600" stroke-width="1.1"/><line x1="757.7" y1="530" x2="827.7" y2="600" stroke-width="1.1"/><line x1="766.2" y1="530" x2="836.2" y2="600" stroke-width="1.1"/><line x1="774.7" y1="530" x2="844.7" y2="600" stroke-width="1.1"/><line x1="783.2" y1="530" x2="853.2" y2="600" stroke-width="1.1"/></g><rect x="671.8" y="535.3" width="88.5" height="56.9" fill="none" stroke-width="1.2"/><rect x="677.3" y="540.5" width="77.3" height="46.5" fill="none" stroke-width="1.2"/><line x1="671.8" y1="500.3" x2="671.8" y2="535.3" stroke-width="1.2"/><line x1="760.3" y1="500.3" x2="760.3" y2="535.3" stroke-width="1.2"/><line x1="709" y1="502.3" x2="672.2" y2="502.3" stroke-width="1.2"/><path d="M672.2 502.3L682.7 500.35L682.7 504.25Z" fill="#111" stroke="none"/><line x1="720.5" y1="502.3" x2="759.9" y2="502.3" stroke-width="1.2"/><path d="M759.9 502.3L749.4 504.25L749.4 500.35Z" fill="#111" stroke="none"/><line x1="677.1" y1="518.8" x2="677.1" y2="540.5" stroke-width="1.2"/><line x1="754.6" y1="518.8" x2="754.6" y2="540.5" stroke-width="1.2"/><line x1="709" y1="521.4" x2="677.5" y2="521.4" stroke-width="1.2"/><path d="M677.5 521.4L688 519.45L688 523.35Z" fill="#111" stroke="none"/><line x1="725.5" y1="521.4" x2="754.2" y2="521.4" stroke-width="1.2"/><path d="M754.2 521.4L743.7 523.35L743.7 519.45Z" fill="#111" stroke="none"/><line x1="761.5" y1="535.3" x2="798.8" y2="535.3" stroke-width="1.2"/><line x1="761.5" y1="592.2" x2="798.8" y2="592.2" stroke-width="1.2"/><line x1="758" y1="540.5" x2="779.7" y2="540.5" stroke-width="1.2"/><line x1="758" y1="587" x2="779.7" y2="587" stroke-width="1.2"/><line x1="795" y1="557.5" x2="795" y2="535.8" stroke-width="1.2"/><path d="M795 535.8L796.95 546.3L793.05 546.3Z" fill="#111" stroke="none"/><line x1="795" y1="569.5" x2="795" y2="591.7" stroke-width="1.2"/><path d="M795 591.7L793.05 581.2L796.95 581.2Z" fill="#111" stroke="none"/><line x1="776.6" y1="556.5" x2="776.6" y2="541" stroke-width="1.2"/><path d="M776.6 541L778.55 551.5L774.65 551.5Z" fill="#111" stroke="none"/><line x1="776.6" y1="569.5" x2="776.6" y2="586.5" stroke-width="1.2"/><path d="M776.6 586.5L774.65 576L778.55 576Z" fill="#111" stroke="none"/><line x1="644" y1="570.7" x2="701.6" y2="551" stroke-width="1.2"/><path d="M701.6 551L693.6 555.43L692.57 552.4Z" fill="#111" stroke="none"/><line x1="763.9" y1="605.5" x2="717.3" y2="588.8" stroke-width="1.2"/><path d="M717.3 588.8L726.31 590.33L725.23 593.34Z" fill="#111" stroke="none"/><text x="338.8" y="48.3" font-size="16.5" text-anchor="start" >A3</text><text x="363.6" y="56.2" font-size="16.5" text-anchor="start" >A2</text><text x="395" y="57.8" font-size="16.5" text-anchor="start" >A</text><text x="324.6" y="104" font-size="16.5" text-anchor="start" >A1</text><text x="76.3" y="115.2" font-size="14.5" text-anchor="start" >F</text><text x="484" y="81.6" font-size="17" text-anchor="start" >&#952;</text><text x="841.3" y="105.4" font-size="17" text-anchor="start" >c</text><text x="176.8" y="199.1" font-size="17.5" text-anchor="start" >D</text><text x="173.3" y="235.9" font-size="17.5" text-anchor="start" >D1</text><text x="385.2" y="419.2" font-size="17.5" text-anchor="start" >E1</text><text x="423.5" y="419.2" font-size="17.5" text-anchor="start" >E</text><text x="85.4" y="611.2" font-size="17.5" text-anchor="start" >b</text><text x="167.6" y="608.8" font-size="19" text-anchor="start" >e</text><text x="258" y="606.2" font-size="18.3" text-anchor="start"  textLength="10.8" lengthAdjust="spacingAndGlyphs">B</text><text x="271.2" y="606.2" font-size="18.3" text-anchor="start"  textLength="10.8" lengthAdjust="spacingAndGlyphs">B</text><text x="77.6" y="251.8" font-size="10" text-anchor="start" >48</text><text x="278.2" y="251.2" font-size="10" text-anchor="start" >33</text><text x="343.5" y="316.5" font-size="10" text-anchor="start" >32</text><text x="6" y="318" font-size="9.8" text-anchor="start" style="font-family:&quot;Liberation Sans&quot;,sans-serif">49</text><text x="7.6" y="515.6" font-size="10" text-anchor="start" >64</text><text x="342.6" y="513.9" font-size="10" text-anchor="start" >17</text><text x="81.6" y="581.5" font-size="9.5" text-anchor="start" >1</text><text x="278.8" y="581.8" font-size="9.6" text-anchor="start" >16</text><text x="721.7" y="200.7" font-size="14" text-anchor="start" >eB</text><text x="601.8" y="318.2" font-size="14.5" text-anchor="start" >0.25</text><text x="663.5" y="353.1" font-size="14.5" text-anchor="start" >L</text><text x="691.3" y="380.8" font-size="14.5" text-anchor="start" >L1</text><text x="663.4" y="410.3" font-size="14.5" text-anchor="start" >DETAIL:&#160;&#160;&#160;F</text><text x="710" y="505.8" font-size="16.5" text-anchor="start" >b</text><text x="710" y="525.8" font-size="16.5" text-anchor="start" >b1</text><text x="770" y="568.3" font-size="16" text-anchor="start" >c1</text><text x="791.7" y="567.4" font-size="16" text-anchor="start" >c</text><text x="580.5" y="583.7" font-size="12.5" text-anchor="start" >BASE METAL</text><text x="752.3" y="615.6" font-size="12.5" text-anchor="start" >WITH PLATING</text><text x="677.6" y="651.2" font-size="14.8" text-anchor="start"  textLength="88" lengthAdjust="spacingAndGlyphs">SECTION B<tspan font-weight="bold">-</tspan>B</text></g></svg>
</body></html>
